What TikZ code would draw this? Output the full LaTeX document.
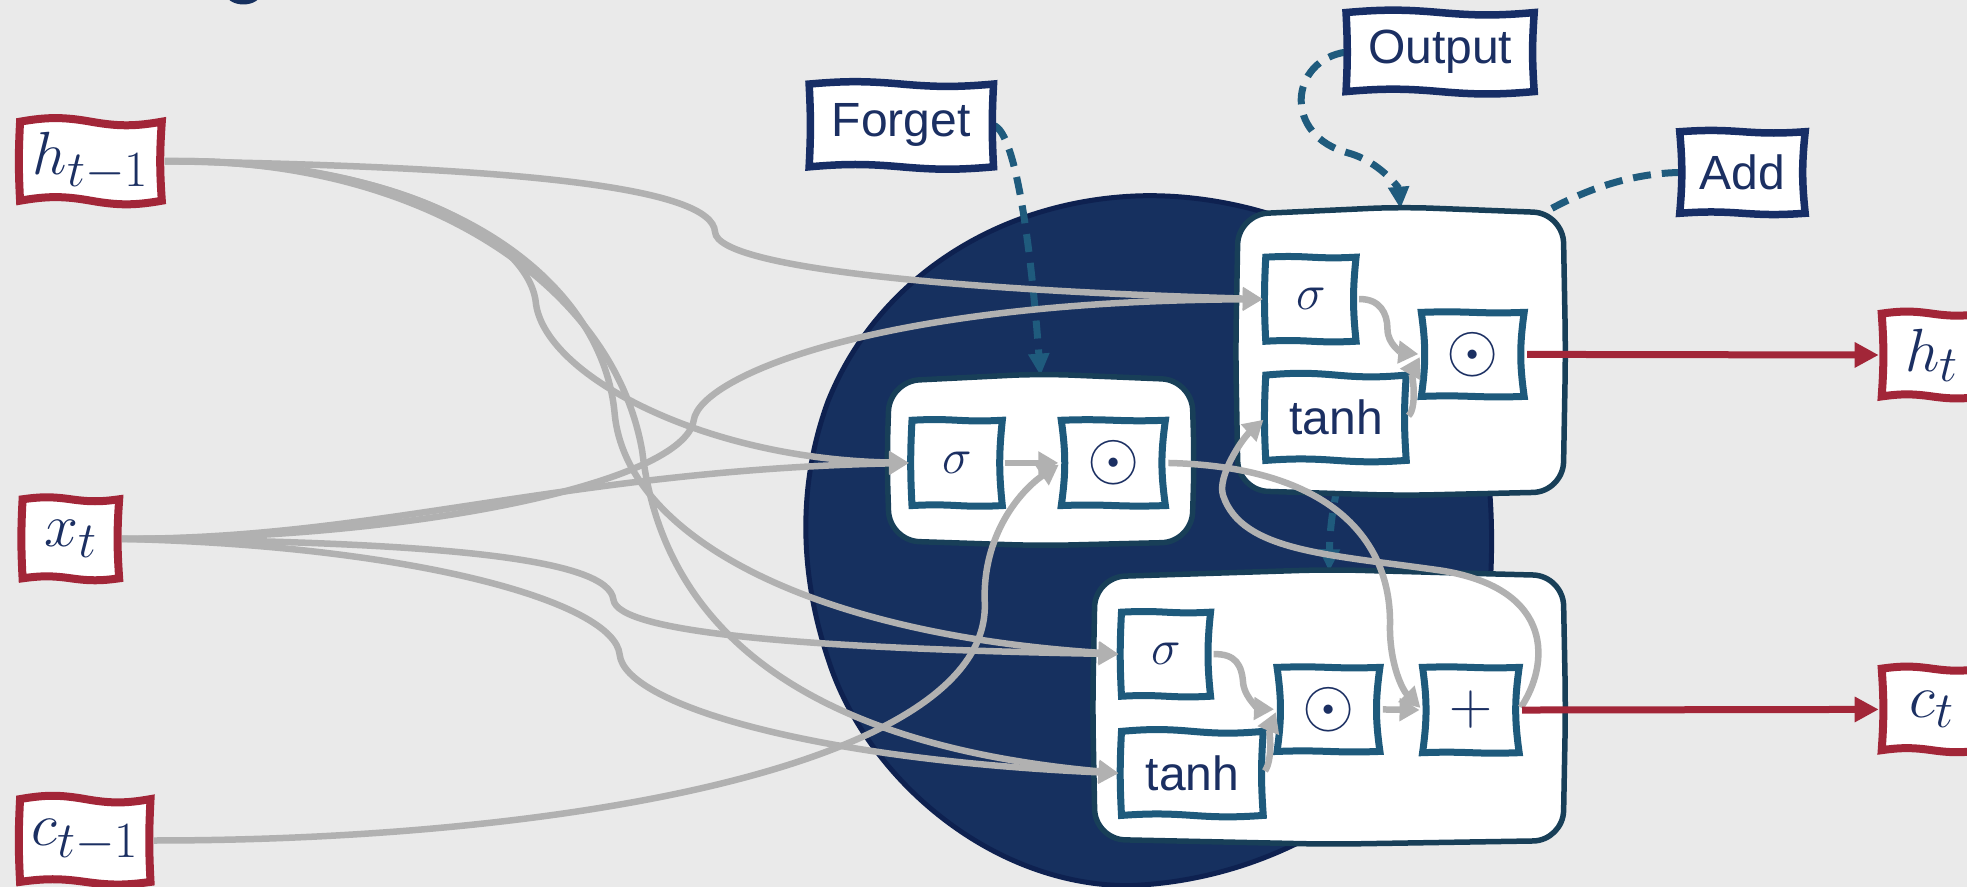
\documentclass[tikz,border=0pt]{standalone}
\usepackage{fontspec}
\setsansfont{Liberation Sans}
\usetikzlibrary{arrows.meta}
\definecolor{bgc}{HTML}{EAEAEA}
\definecolor{navy}{HTML}{16305F}
\definecolor{navyd}{HTML}{0E2150}
\definecolor{txt}{HTML}{1B2F62}
\definecolor{lbl}{HTML}{172E66}
\definecolor{redc}{HTML}{A22638}
\definecolor{tealc}{HTML}{1E5A7C}
\definecolor{gateb}{HTML}{183F58}
\definecolor{gry}{HTML}{B1B1B1}
\definecolor{dsh}{HTML}{1F5B7D}
\pgfdeclarelayer{l0}\pgfdeclarelayer{l1}\pgfdeclarelayer{l2}\pgfdeclarelayer{l3}
\pgfsetlayers{l0,l1,l2,l3,main}
\newcommand\mth[2][2.0]{\scalebox{#1}{\fontsize{24.88}{30}\selectfont$#2$}}
\tikzset{
 base/.style={inner sep=0pt, outer sep=0pt, text=txt},
 mt/.style={base},
 sf/.style={base, font=\sffamily\fontsize{48}{56}\selectfont},
 redb/.style={fill=white, draw=redc, line width=8pt},
 lblb/.style={fill=white, draw=lbl, line width=7.5pt},
 inb/.style={fill=white, draw=tealc, line width=7pt},
 gatebox/.style={fill=white, draw=gateb, line width=5.5pt, rounded corners=30pt},
 conn/.style={draw=gry, line width=6.5pt, shorten <=3pt, shorten >=3pt, -{Triangle[length=20pt,width=22pt]}},
 outa/.style={draw=redc, line width=7pt, shorten <=3pt, shorten >=3pt, -{Triangle[length=24pt,width=24pt]}},
 dsha/.style={draw=dsh, line width=7pt, dash pattern=on 18pt off 11pt, shorten >=2pt, -{Triangle[length=22pt,width=20pt]}},
}
% box node: style, name, x1, y1, x2, y2, text
\newcommand\bx[7]{\node[#1, minimum width={(#5-#3)*1.2545pt}, minimum height={(#6-#4)*1.2545pt}] (#2) at ({(#3+#5)/2},{(#4+#6)/2}) {#7};}
\newcommand\wbox[6]{%
  \filldraw[#1] (#2.north west) to[bend left=#3] (#2.north) to[bend right=#3] (#2.north east)
    to[bend left=#4] (#2.south east) to[bend left=#5] (#2.south) to[bend right=#5] (#2.south west)
    to[bend left=#6] cycle;}
\newcommand\mkgate[4]{%
  \filldraw[gatebox] (#1,#2+3) -- ({(#1+#3)/2},#2-3) -- (#3,#2+2) -- (#3+2,{(#2+#4)/2}) -- (#3,#4) -- ({(#1+#3)/2},#4+3) -- (#1,#4-1) -- (#1-2,{(#2+#4)/2}) -- cycle;}
\begin{document}
\begin{tikzpicture}[x=1.2545pt, y=-1.2545pt]
\useasboundingbox (0,0) rectangle (1568,707);

% ---------- nodes ----------
\bx{mt}{hp}{16}{97}{129}{160}{\mth[2.45]{h_{t-1}}}
\bx{mt}{xt}{18}{398}{95}{461}{\mth[2.45]{x_t}}
\bx{mt}{cp}{16}{637}{120}{703}{\mth[2.45]{c_{t-1}}}
\bx{mt}{ht}{1500}{250}{1580}{316}{\mth[2.45]{h_t}}
\bx{mt}{ct}{1500}{533}{1580}{598}{\mth[2.45]{c_t}}

\bx{sf}{forget}{645}{67}{792}{133}{Forget}
\bx{sf}{output}{1073}{10}{1223}{73}{Output}
\bx{sf}{add}{1339}{105}{1439}{170}{Add}

\bx{base}{fg}{709}{301}{950}{432}{}
\bx{base}{og}{987}{168}{1246}{392}{}
\bx{base}{ag}{873}{457}{1246}{670}{}

\bx{mt}{fs}{727}{335}{799}{403}{\mth{\sigma}}
\bx{mt}{fo}{846}{335}{929}{403}{\mth[2.7]{\odot}}
\bx{mt}{os}{1009}{205}{1081}{272}{\mth{\sigma}}
\bx{sf}{otanh}{1009}{299}{1121}{367}{tanh}
\bx{mt}{oo}{1133}{249}{1215}{316}{\mth[2.7]{\odot}}
\bx{mt}{as}{894}{488}{965}{555}{\mth{\sigma}}
\bx{sf}{atanh}{894}{583}{1007}{650}{tanh}
\bx{mt}{ao}{1018}{532}{1100}{599}{\mth[2.7]{\odot}}
\bx{mt}{ap}{1134}{532}{1211}{600}{\mth[2.4]{+}}

% ---------- background ----------
\begin{pgfonlayer}{l0}
\fill[bgc] (0,0) rectangle (1568,707);
\fill[navy] (194,-6) ellipse [x radius=18pt, y radius=12pt];
\filldraw[fill=navy, draw=navyd, line width=5pt]
  (913,156) .. controls (1010,155) and (1110,200) .. (1155,270)
  .. controls (1185,320) and (1192,400) .. (1188,465)
  .. controls (1186,580) and (1060,700) .. (900,706)
  .. controls (790,706) and (690,620) .. (660,525)
  .. controls (635,450) and (638,380) .. (660,320)
  .. controls (700,220) and (800,158) .. (913,156) -- cycle;
\end{pgfonlayer}

% ---------- dashed gate arrows ----------
\begin{pgfonlayer}{l1}
\draw[dsha] (forget.east) .. controls (810,105) and (822,200) .. (fg.north);
\draw[dsha] (output.west) .. controls (1028,48) and (1022,108) .. (1075,122) .. controls (1100,129) and (1115,150) .. (og.north);
\draw[dsha] (add.west) .. controls (1200,140) and (1062,300) .. (ag.north);
\end{pgfonlayer}

% ---------- gate boxes ----------
\begin{pgfonlayer}{l2}
\mkgate{709}{301}{950}{432}
\mkgate{987}{168}{1246}{392}
\mkgate{873}{457}{1246}{670}
\end{pgfonlayer}

% ---------- small boxes ----------
\begin{pgfonlayer}{l3}
\wbox{redb}{hp}{10}{-4}{10}{3}
\wbox{redb}{xt}{8}{-4}{8}{3}
\wbox{redb}{cp}{10}{-3}{8}{3}
\wbox{redb}{ht}{8}{-3}{8}{-4}
\wbox{redb}{ct}{8}{-3}{8}{-4}
\wbox{lblb}{forget}{5}{-3}{5}{-3}
\wbox{lblb}{output}{5}{-4}{5}{-3}
\wbox{lblb}{add}{4}{-6}{4}{-5}
\wbox{inb}{fs}{3}{-6}{3}{3}
\wbox{inb}{fo}{2}{-8}{2}{-8}
\wbox{inb}{os}{3}{-6}{3}{3}
\wbox{inb}{otanh}{5}{-4}{4}{3}
\wbox{inb}{oo}{2}{-8}{2}{-8}
\wbox{inb}{as}{3}{-6}{3}{3}
\wbox{inb}{atanh}{5}{-4}{4}{3}
\wbox{inb}{ao}{2}{-8}{2}{-8}
\wbox{inb}{ap}{2}{-8}{2}{-8}
\end{pgfonlayer}

% ---------- connectors from h_{t-1} ----------
\draw[conn] (hp.east) .. controls (420,133) and (568,150) .. (570,185) .. controls (572,215) and (780,232) .. (os.west);
\draw[conn] (hp.east) .. controls (320,128) and (420,190) .. (427,240) .. controls (432,298) and (560,366) .. (fs.west);
\draw[conn] (hp.east) .. controls (350,125) and (480,220) .. (490,330) .. controls (499,425) and (640,505) .. (as.west);
\draw[conn] (hp.east) .. controls (340,125) and (490,230) .. (512,360) .. controls (525,470) and (600,590) .. (atanh.west);

% ---------- connectors from x_t ----------
\draw[conn] (xt.east) .. controls (330,430) and (545,385) .. (553,335) .. controls (558,300) and (700,240) .. (os.west);
\draw[conn] (xt.east) .. controls (300,430) and (450,375) .. (fs.west);
\draw[conn] (xt.east) .. controls (350,432) and (485,445) .. (489,478) .. controls (492,505) and (650,517) .. (as.west);
\draw[conn] (xt.east) .. controls (330,435) and (490,480) .. (494,522) .. controls (498,560) and (640,605) .. (atanh.west);

% ---------- connector from c_{t-1} ----------
\draw[conn] (cp.east) .. controls (450,670) and (790,610) .. (785,480) .. controls (783,428) and (812,392) .. (fo.west);

% ---------- inside gates ----------
\draw[conn] (fs.east) -- (fo.west);
\draw[conn] (fo.east) .. controls (1060,372) and (1110,430) .. (1108,500) .. controls (1108,530) and (1118,550) .. (ap.west);
\draw[conn] (as.east) .. controls (985,521) and (990,530) .. (991,545) .. controls (993,558) and (1005,565) .. (ao.west);
\draw[conn] (atanh.east) .. controls (1015,605) and (1012,580) .. (ao.west);
\draw[conn] (ao.east) -- (ap.west);
\draw[conn] (os.east) .. controls (1100,238) and (1106,250) .. (1106,262) .. controls (1106,275) and (1118,281) .. (oo.west);
\draw[conn] (otanh.east) .. controls (1130,325) and (1126,295) .. (oo.west);
\draw[conn] (ap.east) .. controls (1235,530) and (1240,470) .. (1150,455) .. controls (1060,442) and (990,440) .. (975,395) .. controls (970,380) and (990,350) .. (otanh.west);

% ---------- outputs ----------
\draw[outa] (oo.east) -- (ht.west);
\draw[outa] (ap.east) -- (ct.west);
\end{tikzpicture}
\end{document}
